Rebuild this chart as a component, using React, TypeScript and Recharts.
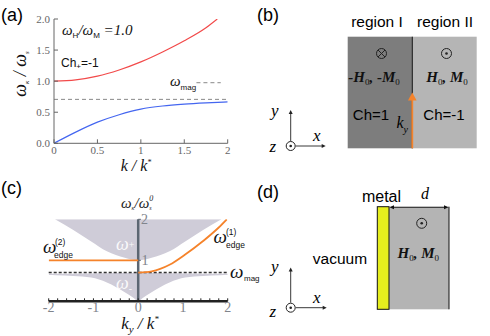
import React from 'react';
import { LineChart, ComposedChart, Line, Area, XAxis, YAxis, ReferenceLine } from 'recharts';

const serif = '"Liberation Serif", "DejaVu Serif", serif';
const sans = '"Liberation Sans", Arial, sans-serif';

// (a) bulk dispersion, omega_H/omega_M = 1.0
const kPlus = [0, 0.25, 0.5, 0.75, 1, 1.25, 1.5, 1.75, 1.88];
const omegaPlus = [1.0, 1.02, 1.08, 1.18, 1.31, 1.47, 1.65, 1.86, 2.0];
const kMinus = [0, 0.25, 0.5, 0.75, 1, 1.25, 1.5, 1.75, 2];
const omegaMinus = [0, 0.18, 0.34, 0.46, 0.55, 0.6, 0.63, 0.65, 0.665];
const omegaMagA = 0.707;
const aTicksX = [0, 0.5, 1, 1.5, 2];
const aTicksY = [0, 0.5, 1, 1.5, 2];

// (c) bulk bands + edge modes
const kUpper = [-1.86, -1.45, -1.05, -0.7, -0.3, 0, 0.3, 0.7, 1.05, 1.45, 1.86];
const upperEdge = [2, 1.74, 1.46, 1.22, 1.06, 1, 1.06, 1.22, 1.46, 1.74, 2];
const bandTop = 2;
const kLower = [-2, -1.84, -1.45, -1.05, -0.7, -0.3, -0.1, 0, 0.1, 0.3, 0.7, 1.05, 1.45, 1.84, 2];
const lowerEdge = [0.64, 0.635, 0.62, 0.58, 0.46, 0.22, 0.08, 0, 0.08, 0.22, 0.46, 0.58, 0.62, 0.635, 0.64];
const lowerTop = [0.67, 0.67, 0.675, 0.68, 0.685, 0.69, 0.69, 0.69, 0.69, 0.69, 0.685, 0.68, 0.675, 0.67, 0.67];
const kEdge2 = [-2, 0];
const edge2 = [1, 1];
const kEdge1 = [0, 0.3, 0.7, 1.05, 1.45, 1.8, 1.98];
const edge1 = [0.7, 0.73, 0.89, 1.14, 1.47, 1.8, 2.0];
const omegaMagC = 0.7;
const cTicks = [-2, -1.8, -1.6, -1.4, -1.2, -1, -0.8, -0.6, -0.4, -0.2, 0, 0.2, 0.4, 0.6, 0.8, 1, 1.2, 1.4, 1.6, 1.8, 2];
const cLabelTicks = [-2, -1, 0, 1, 2];

const plusData = kPlus.map((k, i) => ({ k, w: omegaPlus[i] }));
const minusData = kMinus.map((k, i) => ({ k, w: omegaMinus[i] }));
const upperBand = kUpper.map((k, i) => ({ k, band: [upperEdge[i], bandTop] }));
const lowerBand = kLower.map((k, i) => ({ k, band: [lowerEdge[i], lowerTop[i]] }));
const edge2Data = kEdge2.map((k, i) => ({ k, w: edge2[i] }));
const edge1Data = kEdge1.map((k, i) => ({ k, w: edge1[i] }));

const axisTickA = { fill: '#666', fontSize: 11, fontFamily: serif, style: { fontFamily: serif } };

function Odot({ cx, cy, r = 5 }: { cx: number; cy: number; r?: number }) {
  return (
    <g>
      <circle cx={cx} cy={cy} r={r} fill="none" stroke="#222" strokeWidth={1} />
      <circle cx={cx} cy={cy} r={1.3} fill="#222" />
    </g>
  );
}

function Otimes({ cx, cy, r = 5 }: { cx: number; cy: number; r?: number }) {
  const d = r * 0.7;
  return (
    <g stroke="#222" strokeWidth={1} fill="none">
      <circle cx={cx} cy={cy} r={r} />
      <line x1={cx - d} y1={cy - d} x2={cx + d} y2={cy + d} />
      <line x1={cx - d} y1={cy + d} x2={cx + d} y2={cy - d} />
    </g>
  );
}

function Triad({ ox, oy, ytip, xtip, yLab, xLab, zLab }: any) {
  return (
    <g>
      <Odot cx={ox} cy={oy} r={4.5} />
      <line x1={ox} y1={oy - 5} x2={ox} y2={ytip + 3} stroke="#222" strokeWidth={0.9} />
      <polygon points={`${ox},${ytip} ${ox - 2},${ytip + 4} ${ox + 2},${ytip + 4}`} fill="#222" />
      <line x1={ox + 5} y1={oy} x2={xtip - 3} y2={oy} stroke="#222" strokeWidth={0.9} />
      <polygon points={`${xtip},${oy} ${xtip - 4},${oy - 2} ${xtip - 4},${oy + 2}`} fill="#222" />
      <text x={yLab[0]} y={yLab[1]} fontFamily={serif} fontStyle="italic" fontSize={17}>y</text>
      <text x={xLab[0]} y={xLab[1]} fontFamily={serif} fontStyle="italic" fontSize={17}>x</text>
      <text x={zLab[0]} y={zLab[1]} fontFamily={serif} fontStyle="italic" fontSize={17}>z</text>
    </g>
  );
}

function HM({ x, y, neg }: { x: number; y: number; neg?: boolean }) {
  return (
    <text x={x} y={y} textAnchor="middle" fontFamily={serif} fontStyle="italic" fontWeight="bold" fontSize={15} fill="#111">
      {neg ? '-' : ''}H<tspan fontSize={9} fontWeight="normal" fontStyle="normal" dy={3}>0</tspan>
      <tspan dy={-3}>, {neg ? '-' : ''}M</tspan>
      <tspan fontSize={9} fontWeight="normal" fontStyle="normal" dy={3}>0</tspan>
    </text>
  );
}

function Overlay() {
  return (
    <svg width={490} height={336} style={{ position: 'absolute', left: 0, top: 0, pointerEvents: 'none' }}>
      {/* panel letters */}
      <text x={1} y={21} fontFamily={sans} fontSize={18}>(a)</text>
      <text x={257} y={21} fontFamily={sans} fontSize={18}>(b)</text>
      <text x={1} y={194} fontFamily={sans} fontSize={18}>(c)</text>
      <text x={257} y={198} fontFamily={sans} fontSize={18}>(d)</text>

      {/* (a) annotations */}
      <text transform="translate(26,74) rotate(-90)" textAnchor="middle" fontFamily={serif} fontStyle="italic" fontSize={18} fill="#111">
        ω<tspan fontSize={7} dy={3}>κ</tspan><tspan dy={-3}> / ω</tspan><tspan fontSize={7} dy={3}>s</tspan>
      </text>
      <text x={136} y={171} textAnchor="middle" fontFamily={serif} fontStyle="italic" fontSize={16} fill="#111">
        k / k<tspan fontSize={8} dy={-6}>*</tspan>
      </text>
      <text x={62} y={35} fontFamily={serif} fontStyle="italic" fontSize={15} fill="#111">
        ω<tspan fontSize={8} fontStyle="normal" fontFamily={sans} dy={3}>H</tspan>
        <tspan dy={-3}>/ω</tspan>
        <tspan fontSize={8} fontStyle="normal" fontFamily={sans} dy={3}>M</tspan>
        <tspan dy={-3}> =1.0</tspan>
      </text>
      <text x={61} y={67} fontFamily={sans} fontSize={12} fill="#111">
        Ch<tspan fontSize={8} dy={2}>+</tspan><tspan dy={-2}>=-1</tspan>
      </text>
      <text x={170} y={86} fontFamily={serif} fontStyle="italic" fontSize={15} fill="#111">
        ω<tspan fontSize={8} fontStyle="normal" fontFamily={sans} dy={4}>mag</tspan>
      </text>

      {/* (b) domain wall */}
      <text x={377} y={27} textAnchor="middle" fontFamily={sans} fontSize={15.5}>region I</text>
      <text x={445} y={27} textAnchor="middle" fontFamily={sans} fontSize={15.5}>region II</text>
      <rect x={347.7} y={36.7} width={64.6} height={111.6} fill="#7d7d7d" />
      <rect x={412.3} y={36.7} width={64.4} height={111.6} fill="#b5b5b5" />
      <line x1={412.3} y1={36.7} x2={412.3} y2={148.3} stroke="#111" strokeWidth={1} />
      <line x1={412.3} y1={148.3} x2={412.3} y2={99} stroke="#f5832b" strokeWidth={1.8} />
      <polygon points="412.3,92.5 408,100.5 416.6,100.5" fill="#f5832b" />
      <Otimes cx={381.5} cy={53.5} />
      <Odot cx={446.5} cy={53.5} />
      <HM x={374} y={82} neg />
      <HM x={447} y={82} />
      <text x={371} y={120} textAnchor="middle" fontFamily={sans} fontSize={15}>Ch=1</text>
      <text x={444} y={120} textAnchor="middle" fontFamily={sans} fontSize={15}>Ch=-1</text>
      <text x={396.5} y={127.5} fontFamily={serif} fontStyle="italic" fontSize={16}>
        k<tspan fontSize={10} dy={5}>y</tspan>
      </text>
      <Triad ox={290.7} oy={146} ytip={110} xtip={325.7} yLab={[271, 116]} xLab={[313, 141]} zLab={[269.5, 152]} />

      {/* (c) annotations */}
      <text x={121} y={208} fontFamily={serif} fontStyle="italic" fontSize={15} fill="#222">
        ω<tspan fontSize={6} dy={2}>κ</tspan><tspan dy={-2}>/ω</tspan>
        <tspan fontSize={8} dy={-7}>0</tspan><tspan fontSize={6} dx={-4} dy={9}>s</tspan>
      </text>
      <text x={141} y={224} fontFamily={serif} fontSize={14} fill="#80848c">2</text>
      <text x={141.5} y={265} fontFamily={serif} fontSize={14} fill="#80848c">1</text>
      <text x={116} y={250} fontFamily={serif} fontStyle="italic" fontSize={18} fill="#fff" fillOpacity={0.9}>
        ω<tspan fontSize={10} fontStyle="normal" dy={-2}>+</tspan>
      </text>
      <text x={116} y={289} fontFamily={serif} fontStyle="italic" fontSize={18} fill="#fff" fillOpacity={0.9}>
        ω<tspan fontSize={10} fontStyle="normal" dy={3}>-</tspan>
      </text>
      <text x={43} y={253} fontFamily={serif} fontStyle="italic" fontSize={19} fill="#111">ω</text>
      <text x={55} y={244.5} fontFamily={sans} fontSize={8.5} fill="#111">(2)</text>
      <text x={54} y={257.5} fontFamily={sans} fontSize={8.5} fill="#111">edge</text>
      <text x={213.5} y={243} fontFamily={serif} fontStyle="italic" fontSize={19} fill="#111">ω</text>
      <text x={226} y={234.5} fontFamily={sans} fontSize={8.5} fill="#111">(1)</text>
      <text x={226} y={247.5} fontFamily={sans} fontSize={8.5} fill="#111">edge</text>
      <text x={230} y={278} fontFamily={serif} fontStyle="italic" fontSize={19} fill="#111">ω</text>
      <text x={244} y={281} fontFamily={sans} fontSize={8} fill="#111">mag</text>
      <text x={140} y={329} textAnchor="middle" fontFamily={serif} fontStyle="italic" fontSize={17} fill="#111">
        k<tspan fontSize={11} dy={4}>y</tspan><tspan dy={-4}> / k</tspan><tspan fontSize={9} dy={-7}>*</tspan>
      </text>

      {/* (d) film on metal */}
      <text x={381.5} y={202} textAnchor="middle" fontFamily={sans} fontSize={16}>metal</text>
      <text x={421} y={198.5} fontFamily={serif} fontStyle="italic" fontSize={16}>d</text>
      <rect x={389} y={206.7} width={60} height={102.6} fill="#b4b4b4" />
      <rect x={377.3} y={206.7} width={11.7} height={102.6} fill="#e6ee1e" stroke="#111" strokeWidth={1} />
      <line x1={449} y1={206.7} x2={449} y2={309.3} stroke="#111" strokeWidth={1} />
      <line x1={393} y1={207.3} x2={445} y2={207.3} stroke="#111" strokeWidth={0.9} />
      <polygon points="389.5,207.3 394,205.3 394,209.3" fill="#111" />
      <polygon points="448.5,207.3 444,205.3 444,209.3" fill="#111" />
      <Odot cx={421.7} cy={223.3} />
      <HM x={418.3} y={257.5} />
      <text x={340} y={263.5} textAnchor="middle" fontFamily={sans} fontSize={15.5}>vacuum</text>
      <Triad ox={290.7} oy={307.7} ytip={267.5} xtip={326.7} yLab={[271, 272]} xLab={[313, 303]} zLab={[269.5, 317]} />
    </svg>
  );
}

function PanelA() {
  return (
    <div style={{ position: 'absolute', left: 0, top: 0 }}>
      <LineChart width={245} height={170} margin={{ top: 19, right: 17.3, bottom: 8.7, left: 0 }}>
        <XAxis dataKey="k" type="number" domain={[0, 2]} ticks={aTicksX} interval={0} allowDataOverflow
          tickSize={-4} tickMargin={7} height={18} stroke="#666" tick={axisTickA} />
        <XAxis xAxisId="top" orientation="top" type="number" domain={[0, 2]} ticks={aTicksX} interval={0}
          tickSize={-4} height={0} stroke="#666" tickFormatter={() => ''} />
        <YAxis type="number" domain={[0, 2]} ticks={aTicksY} interval={0} allowDataOverflow
          tickFormatter={(v: number) => v.toFixed(1)} tickSize={-4} tickMargin={8} width={54} stroke="#666" tick={axisTickA} />
        <YAxis yAxisId="right" orientation="right" type="number" domain={[0, 2]} ticks={aTicksY} interval={0}
          tickSize={-4} width={0} stroke="#666" tickFormatter={() => ''} />
        <ReferenceLine y={omegaMagA} stroke="#888" strokeDasharray="4 3" />
        <ReferenceLine segment={[{ x: 1.64, y: 0.975 }, { x: 1.92, y: 0.975 }]} stroke="#888" strokeDasharray="4 3" />
        <Line data={plusData} dataKey="w" type="monotone" stroke="#f24a4a" strokeWidth={1.2} dot={false} isAnimationActive={false} />
        <Line data={minusData} dataKey="w" type="monotone" stroke="#4466f0" strokeWidth={1.2} dot={false} isAnimationActive={false} />
      </LineChart>
    </div>
  );
}

function PanelC() {
  return (
    <div style={{ position: 'absolute', left: 0, top: 170 }}>
      <ComposedChart width={245} height={166} margin={{ top: 49.3, right: 17.3, bottom: 14.7, left: 48.7 }}>
        <XAxis dataKey="k" type="number" domain={[-2, 2]} ticks={cTicks} interval={0} allowDataOverflow
          tickFormatter={(v: number) => (cLabelTicks.includes(v) ? String(v) : '')}
          tickSize={-3} tickMargin={4} height={20}
          axisLine={{ stroke: '#222', strokeWidth: 2.5 }} tickLine={{ stroke: '#222' }}
          tick={{ fill: '#80848c', fontSize: 14, fontFamily: serif, style: { fontFamily: serif } }} />
        <YAxis hide type="number" domain={[0, 2]} allowDataOverflow />
        <Area data={upperBand} dataKey="band" type="monotone" stroke="none" fill="#cfccd8" fillOpacity={1} isAnimationActive={false} />
        <Area data={lowerBand} dataKey="band" type="monotone" stroke="none" fill="#cfccd8" fillOpacity={1} isAnimationActive={false} />
        <ReferenceLine y={omegaMagC} stroke="#333" strokeDasharray="3 2" strokeWidth={1.5} />
        <ReferenceLine segment={[{ x: 0, y: 0 }, { x: 0, y: 2 }]} stroke="#5c6672" strokeWidth={2.5} />
        <ReferenceLine segment={[{ x: 0, y: 1 }, { x: 0.06, y: 1 }]} stroke="#5c6672" strokeWidth={1} />
        <ReferenceLine segment={[{ x: 0, y: 2 }, { x: 0.06, y: 2 }]} stroke="#5c6672" strokeWidth={1} />
        <Line data={edge2Data} dataKey="w" type="linear" stroke="#f5832b" strokeWidth={1.8} dot={false} isAnimationActive={false} />
        <Line data={edge1Data} dataKey="w" type="monotone" stroke="#f5832b" strokeWidth={1.8} dot={false} isAnimationActive={false} />
      </ComposedChart>
    </div>
  );
}

export default function App() {
  return (
    <div style={{ position: 'absolute', left: 0, top: 0, width: 490, height: 336, background: '#fff', overflow: 'hidden' }}>
      <PanelA />
      <PanelC />
      <Overlay />
    </div>
  );
}
